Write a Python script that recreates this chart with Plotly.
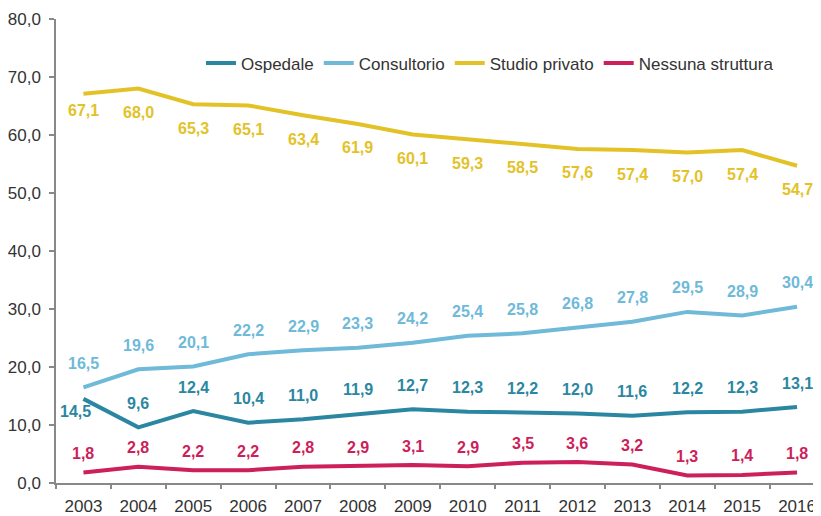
import plotly.graph_objects as go

years = ["2003","2004","2005","2006","2007","2008","2009","2010","2011","2012","2013","2014","2015","2016"]
ospedale = [14.5, 9.6, 12.4, 10.4, 11.0, 11.9, 12.7, 12.3, 12.2, 12.0, 11.6, 12.2, 12.3, 13.1]
consultorio = [16.5, 19.6, 20.1, 22.2, 22.9, 23.3, 24.2, 25.4, 25.8, 26.8, 27.8, 29.5, 28.9, 30.4]
studio = [67.1, 68.0, 65.3, 65.1, 63.4, 61.9, 60.1, 59.3, 58.5, 57.6, 57.4, 57.0, 57.4, 54.7]
nessuna = [1.8, 2.8, 2.2, 2.2, 2.8, 2.9, 3.1, 2.9, 3.5, 3.6, 3.2, 1.3, 1.4, 1.8]
y_ticks = [0, 10, 20, 30, 40, 50, 60, 70, 80]

FONT = "Liberation Sans, Arial, sans-serif"

series = [
    ("Ospedale", ospedale, "#2b87a1", -24),
    ("Consultorio", consultorio, "#6fb9d9", -24),
    ("Studio privato", studio, "#e3c228", 24),
    ("Nessuna struttura", nessuna, "#cc1f5b", -19),
]

def fmt(v):
    return f"{v:.1f}".replace(".", ",")

fig = go.Figure()
annotations = []
for name, vals, color, shift in series:
    fig.add_trace(go.Scatter(x=list(range(len(years))), y=vals, mode="lines", name=name,
                             line=dict(color=color, width=4)))
    for i, v in enumerate(vals):
        ys = shift
        xs = 0
        if i == 0 and name == "Ospedale":
            ys, xs = 13, -8
        elif i == 0 and name == "Studio privato":
            ys = 17
        annotations.append(dict(x=i, y=v, xref="x", yref="y", text=fmt(v), showarrow=False,
                                yshift=-ys, xshift=xs,
                                font=dict(family=FONT, size=16, color=color, weight="bold")))

# page body has an 8px default margin, so the figure is 8px smaller on each axis
fig.update_layout(
    width=813, height=508,
    margin=dict(l=48, r=2, t=11, b=33, autoexpand=False),
    plot_bgcolor="white", paper_bgcolor="white",
    font=dict(family=FONT, size=17, color="#333333"),
    annotations=annotations,
    showlegend=True,
    legend=dict(orientation="h", x=0.19, y=0.904, xanchor="left", yanchor="middle",
                font=dict(family=FONT, size=17, color="#333333"), bgcolor="rgba(0,0,0,0)",
                itemwidth=30, tracegroupgap=0),
)
fig.update_xaxes(range=[-0.5, 13.4], tickmode="array", tickvals=list(range(len(years))), ticktext=years,
                 showline=True, linecolor="#888888", linewidth=1.5, showgrid=False, zeroline=False,
                 ticks="", ticklabelstandoff=7, automargin=False,
                 tickfont=dict(family=FONT, size=17, color="#333333"))
# category boundary ticks on x axis
fig.update_layout(xaxis2=dict(overlaying="x", matches="x", side="bottom", tickmode="array",
                              tickvals=[i + 0.5 for i in range(-1, len(years))], ticktext=[""] * (len(years) + 1),
                              ticks="outside", ticklen=5, tickcolor="#888888", tickwidth=1.5,
                              showgrid=False, zeroline=False, showline=False, automargin=False))
fig.add_trace(go.Scatter(x=[0], y=[None], xaxis="x2", showlegend=False, hoverinfo="skip"))
fig.update_yaxes(range=[0, 80], tickmode="array", tickvals=y_ticks, ticktext=[fmt(v) for v in y_ticks],
                 showline=True, linecolor="#888888", linewidth=1.5, showgrid=False, zeroline=False,
                 ticks="outside", ticklen=5, tickcolor="#888888", tickwidth=1.5,
                 ticklabelstandoff=5, automargin=False,
                 tickfont=dict(family=FONT, size=17, color="#333333"))

fig.write_html("out.html")
